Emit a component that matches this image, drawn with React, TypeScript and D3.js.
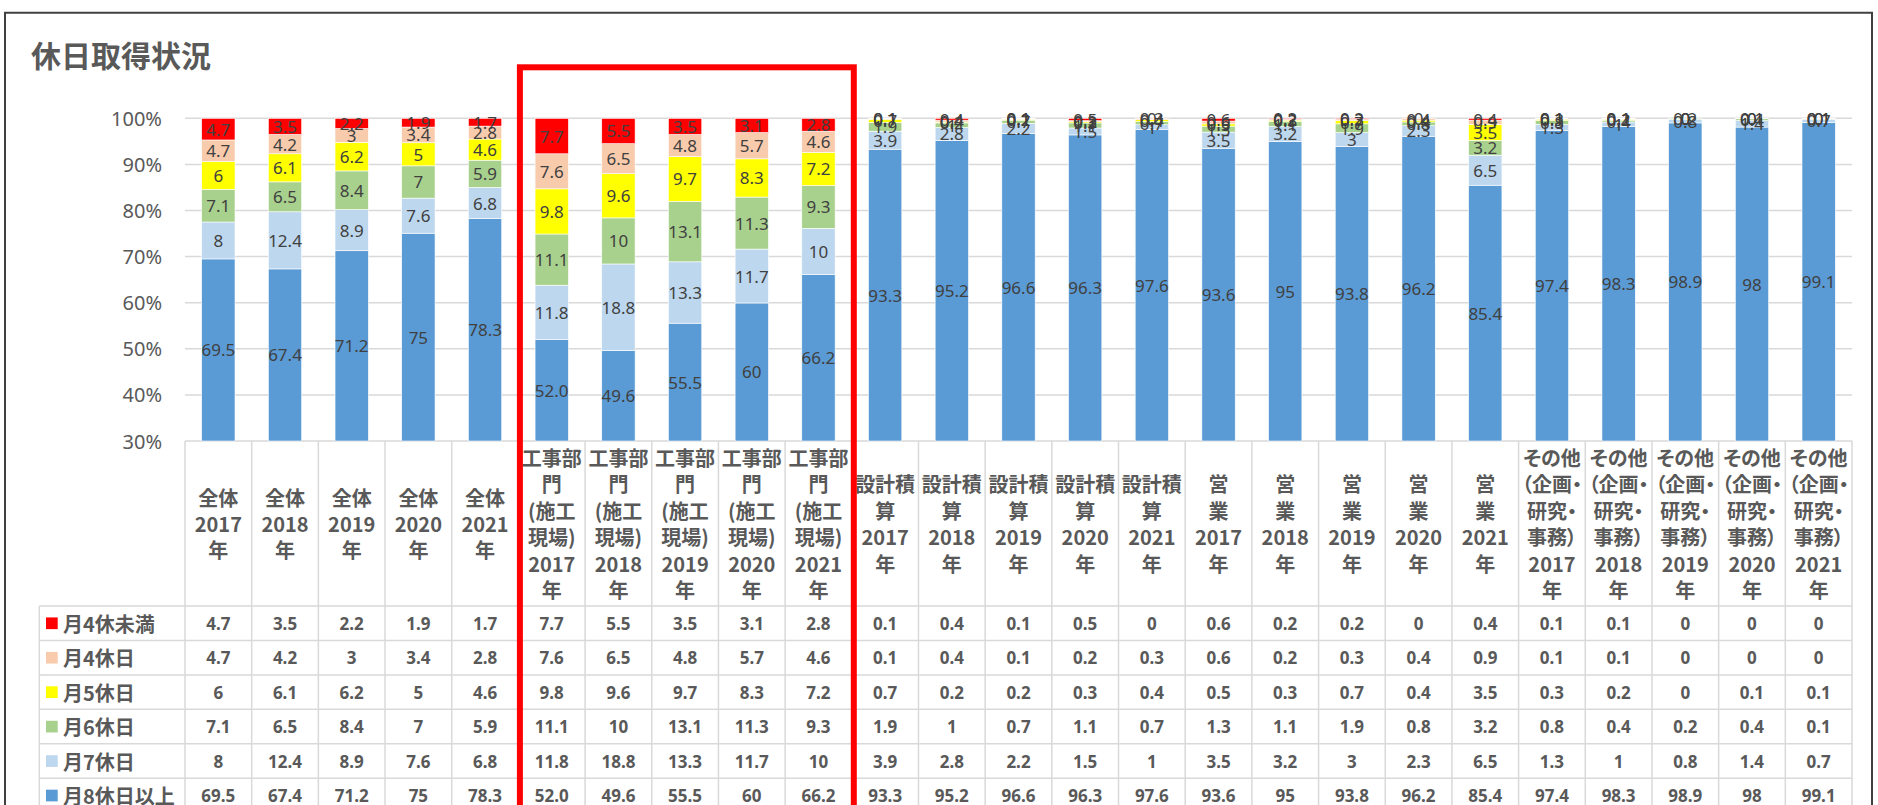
import * as d3 from 'd3';

// categories (header lines per group, then year)
const groups = [
  ['全体'],
  ['工事部', '門', '(施工', '現場)'],
  ['設計積', '算'],
  ['営', '業'],
  ['その他', '（企画・', '研究・', '事務）'],
];
const years = ['2017', '2018', '2019', '2020', '2021'];

const seriesNames = ['月4休未満', '月4休日', '月5休日', '月6休日', '月7休日', '月8休日以上'];
const seriesColors = ['#ff0000', '#f8cbad', '#ffff00', '#a9d18e', '#bdd7ee', '#5b9bd5'];

// values as printed in the table
const lt4 = ['4.7', '3.5', '2.2', '1.9', '1.7', '7.7', '5.5', '3.5', '3.1', '2.8', '0.1', '0.4', '0.1', '0.5', '0', '0.6', '0.2', '0.2', '0', '0.4', '0.1', '0.1', '0', '0', '0'];
const d4 = ['4.7', '4.2', '3', '3.4', '2.8', '7.6', '6.5', '4.8', '5.7', '4.6', '0.1', '0.4', '0.1', '0.2', '0.3', '0.6', '0.2', '0.3', '0.4', '0.9', '0.1', '0.1', '0', '0', '0'];
const d5 = ['6', '6.1', '6.2', '5', '4.6', '9.8', '9.6', '9.7', '8.3', '7.2', '0.7', '0.2', '0.2', '0.3', '0.4', '0.5', '0.3', '0.7', '0.4', '3.5', '0.3', '0.2', '0', '0.1', '0.1'];
const d6 = ['7.1', '6.5', '8.4', '7', '5.9', '11.1', '10', '13.1', '11.3', '9.3', '1.9', '1', '0.7', '1.1', '0.7', '1.3', '1.1', '1.9', '0.8', '3.2', '0.8', '0.4', '0.2', '0.4', '0.1'];
const d7 = ['8', '12.4', '8.9', '7.6', '6.8', '11.8', '18.8', '13.3', '11.7', '10', '3.9', '2.8', '2.2', '1.5', '1', '3.5', '3.2', '3', '2.3', '6.5', '1.3', '1', '0.8', '1.4', '0.7'];
const ge8 = ['69.5', '67.4', '71.2', '75', '78.3', '52.0', '49.6', '55.5', '60', '66.2', '93.3', '95.2', '96.6', '96.3', '97.6', '93.6', '95', '93.8', '96.2', '85.4', '97.4', '98.3', '98.9', '98', '99.1'];

const yTicks = [0.3, 0.4, 0.5, 0.6, 0.7, 0.8, 0.9, 1.0];

const rows = [lt4, d4, d5, d6, d7, ge8];
const stackOrder = [5, 4, 3, 2, 1, 0]; // bottom to top

const JP = '"Noto Sans CJK JP", "Noto Sans", sans-serif';
const NUM = '"Noto Sans", "Liberation Sans", sans-serif';

const App = () => {
  const width = 1878;
  const height = 805;
  const plotLeft = 185;
  const plotRight = 1852;
  const yTop = 118.3;
  const yBottom = 441;

  const cats = [];
  groups.forEach((g, gi) => years.forEach((yr, yi) => cats.push({ id: gi * 5 + yi, lines: [...g, yr, '年'] })));
  const ids = cats.map((c) => String(c.id));

  const xCol = d3.scaleBand().domain(ids).range([plotLeft, plotRight]);
  const bw = xCol.bandwidth();
  const barW = bw / 2;

  const y = d3.scaleLinear().domain([0.3, 1]).range([yBottom, yTop]);

  const table = ids.map((id, i) => {
    const o = { id };
    seriesNames.forEach((s, si) => (o[s] = +rows[si][i]));
    return o;
  });
  const keys = stackOrder.map((i) => seriesNames[i]);
  const stacked = d3.stack().keys(keys).offset(d3.stackOffsetExpand)(table);

  const rowTop = 606;
  const rowH = 34.45;
  const legendLeft = 39.3;

  const bars = [];
  const labels = [];
  stacked.forEach((layer, li) => {
    const si = stackOrder[li];
    layer.forEach((d, i) => {
      const lo = Math.max(d[0], 0.3);
      const hi = d[1];
      const x0 = xCol(ids[i]) + bw / 4;
      bars.push(
        <rect
          key={`b${li}-${i}`}
          x={x0}
          y={y(hi)}
          width={barW}
          height={Math.max(0, y(lo) - y(hi))}
          fill={seriesColors[si]}
          stroke='#ffffff'
          strokeWidth={0.6}
        />
      );
      labels.push(
        <text
          key={`l${li}-${i}`}
          x={x0 + barW / 2}
          y={y((lo + hi) / 2)}
          textAnchor='middle'
          dominantBaseline='central'
          fontFamily={NUM}
          fontSize={17}
          fill='#404040'
        >
          {rows[si][i]}
        </text>
      );
    });
  });

  const redLeft = xCol(ids[5]) + 1.5;
  const redRight = xCol(ids[9]) + bw + 2;

  return (
    <svg width={width} height={height} style={{ position: 'absolute', left: 0, top: 0, background: '#fff' }}>
      <rect x={0} y={0} width={width} height={height} fill='#fff' />
      {/* frame */}
      <path d={`M5,${height} V12.7 H1872 V${height}`} fill='none' stroke='#404040' strokeWidth={2} />

      <text x={31} y={67} fontFamily={JP} fontWeight='bold' fontSize={30} fill='#595959'>
        休日取得状況
      </text>

      {/* grid */}
      {yTicks.map((t) => (
        <g key={t}>
          <line x1={plotLeft} x2={plotRight} y1={y(t)} y2={y(t)} stroke='#d9d9d9' strokeWidth={1.5} />
          <text
            x={162}
            y={y(t)}
            textAnchor='end'
            dominantBaseline='central'
            fontFamily={NUM}
            fontSize={20}
            fill='#595959'
          >
            {d3.format('.0%')(t)}
          </text>
        </g>
      ))}

      {bars}
      {labels}

      {/* data table */}
      <g stroke='#d9d9d9' strokeWidth={1.5}>
        {ids.map((id) => (
          <line key={id} x1={xCol(id)} x2={xCol(id)} y1={yBottom} y2={height} />
        ))}
        <line x1={plotRight} x2={plotRight} y1={yBottom} y2={height} />
        <line x1={legendLeft} x2={legendLeft} y1={rowTop} y2={height} />
        {seriesNames.map((s, i) => (
          <line key={s} x1={legendLeft} x2={plotRight} y1={rowTop + i * rowH} y2={rowTop + i * rowH} />
        ))}
      </g>

      {cats.map((c) => {
        const cx = xCol(String(c.id)) + bw / 2;
        const lh = 26.4;
        const mid = (yBottom + rowTop) / 2;
        const start = mid - ((c.lines.length - 1) * lh) / 2;
        return (
          <text
            key={c.id}
            textAnchor='middle'
            fontFamily={JP}
            fontWeight='bold'
            fontSize={20}
            fill='#595959'
            style={{ fontFeatureSettings: '"palt"' }}
          >
            {c.lines.map((ln, li) => (
              <tspan key={li} x={cx} y={start + li * lh} dominantBaseline='central'>
                {ln}
              </tspan>
            ))}
          </text>
        );
      })}

      {seriesNames.map((s, si) => {
        const cy = rowTop + si * rowH + rowH / 2;
        return (
          <g key={s}>
            <rect x={46} y={cy - 5.8} width={11.7} height={11.7} fill={seriesColors[si]} />
            <text x={63} y={cy} dominantBaseline='central' fontFamily={JP} fontWeight='bold' fontSize={20} fill='#595959'>
              {s}
            </text>
            {rows[si].map((v, i) => (
              <text
                key={i}
                x={xCol(ids[i]) + bw / 2}
                y={cy}
                textAnchor='middle'
                dominantBaseline='central'
                fontFamily={NUM}
                fontWeight='bold'
                fontSize={17}
                fill='#595959'
              >
                {v}
              </text>
            ))}
          </g>
        );
      })}

      {/* highlight box */}
      <rect
        x={redLeft}
        y={67.3}
        width={redRight - redLeft}
        height={height}
        fill='none'
        stroke='#ff0000'
        strokeWidth={6}
      />
    </svg>
  );
};

export default App;
